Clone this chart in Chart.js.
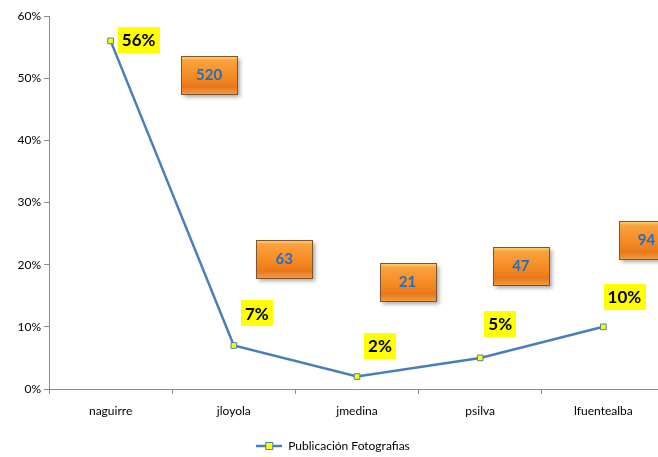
<!DOCTYPE html>
<html>
<head>
<meta charset="utf-8">
<script src="https://cdn.jsdelivr.net/npm/chart.js@4.4.1/dist/chart.umd.min.js"></script>
<style>
  html, body { margin: 0; padding: 0; background: #fff; overflow: hidden; }
  #wrap { width: 670px; height: 457px; }
</style>
</head>
<body>
<div id="wrap"><canvas id="chart" width="670" height="457"></canvas></div>
<script>
// datos del gráfico
const usuarios = ['naguirre', 'jloyola', 'jmedina', 'psilva', 'lfuentealba'];
const porcentajes = [56, 7, 2, 5, 10];
const fotografias = [520, 63, 21, 47, 94];
const serieNombre = 'Publicación Fotografias';

// posición de las cajas naranjas (indice de categoria, valor en %) - solo diseño
const cajaPosX = [0.80, 1.41, 2.41, 3.33, 4.35];
const cajaPosY = [50.5, 20.9, 17.2, 19.8, 24.0];
// desplazamiento de las etiquetas amarillas respecto al punto (px)
const etqDX = [28, 23, 23, 20, 21];
const etqDY = [-1, -32, -31, -34, -30];

const FONT = 'Lato, "Liberation Sans", sans-serif';
const AZUL = '#4A7EBB';
const GRIS = '#8C8C8C';

// icono de leyenda: linea con cuadro amarillo
const icono = document.createElement('canvas');
icono.width = 26; icono.height = 10;
(function () {
    const c = icono.getContext('2d');
    c.strokeStyle = AZUL; c.lineWidth = 2.5;
    c.beginPath(); c.moveTo(0, 5); c.lineTo(26, 5); c.stroke();
    c.fillStyle = '#FFFF00'; c.fillRect(9.5, 1.5, 7, 7);
    c.strokeStyle = AZUL; c.lineWidth = 1; c.strokeRect(9.5, 1.5, 7, 7);
})();

const etiquetas = {
    id: 'etiquetas',
    afterDraw(chart) {
        const ctx = chart.ctx;
        const sx = chart.scales.x, sy = chart.scales.y;
        const meta = chart.getDatasetMeta(0);

        // cajas naranjas con el total de fotografias
        fotografias.forEach((n, i) => {
            const cx = sx.getPixelForValue(cajaPosX[i]);
            const cy = sy.getPixelForValue(cajaPosY[i]);
            const w = 56, h = 38;
            const x0 = Math.round(cx - w / 2) + 0.5, y0 = Math.round(cy - h / 2) + 0.5;
            ctx.save();
            ctx.shadowColor = 'rgba(0,0,0,0.35)';
            ctx.shadowBlur = 4;
            ctx.shadowOffsetX = 2;
            ctx.shadowOffsetY = 2;
            const g = ctx.createLinearGradient(0, y0, 0, y0 + h);
            g.addColorStop(0, '#FCD27A');
            g.addColorStop(0.1, '#F9A23E');
            g.addColorStop(0.55, '#F68A22');
            g.addColorStop(0.8, '#E8781A');
            g.addColorStop(1, '#F39A45');
            ctx.fillStyle = g;
            ctx.fillRect(x0, y0, w, h);
            ctx.restore();
            ctx.save();
            ctx.strokeStyle = '#7E5530';
            ctx.lineWidth = 1;
            ctx.strokeRect(x0, y0, w, h);
            ctx.fillStyle = '#1F6EC1';
            ctx.font = 'bold 15px ' + FONT;
            ctx.textAlign = 'center';
            ctx.textBaseline = 'middle';
            ctx.fillText(String(n), cx, cy);
            ctx.restore();
        });

        // etiquetas amarillas con el porcentaje
        meta.data.forEach((pt, i) => {
            const txt = porcentajes[i] + '%';
            ctx.save();
            ctx.font = 'bold 17px ' + FONT;
            const tw = ctx.measureText(txt).width;
            const w = tw + 8, h = 26;
            const cx = pt.x + etqDX[i], cy = pt.y + etqDY[i];
            ctx.fillStyle = '#FFFF00';
            ctx.fillRect(Math.round(cx - w / 2), Math.round(cy - h / 2), Math.round(w), h);
            ctx.fillStyle = '#000';
            ctx.textAlign = 'center';
            ctx.textBaseline = 'middle';
            ctx.fillText(txt, cx, cy + 1);
            ctx.restore();
        });
    }
};

new Chart(document.getElementById('chart'), {
    type: 'line',
    data: {
        labels: usuarios,
        datasets: [{
            label: serieNombre,
            data: porcentajes,
            borderColor: AZUL,
            borderWidth: 2.5,
            pointStyle: 'rect',
            pointRadius: 4,
            pointBackgroundColor: '#FFFF00',
            pointBorderColor: AZUL,
            pointBorderWidth: 1,
            tension: 0
        }]
    },
    options: {
        responsive: false,
        animation: false,
        devicePixelRatio: 1,
        layout: { padding: { top: 16, left: 0, right: 4, bottom: -5 } },
        scales: {
            x: {
                offset: true,
                grid: { display: true, drawOnChartArea: false, drawTicks: true, tickLength: 5, color: GRIS, offset: true },
                border: { color: GRIS, width: 1 },
                ticks: { color: '#000', font: { family: FONT, size: 12 }, padding: 10 },
                afterFit: s => { s.height = 48; }
            },
            y: {
                min: 0,
                max: 60,
                grid: { display: true, drawOnChartArea: false, drawTicks: true, tickLength: 5, color: GRIS },
                border: { color: GRIS, width: 1 },
                ticks: {
                    stepSize: 10,
                    color: '#000',
                    font: { family: FONT, size: 12 },
                    padding: 3,
                    callback: v => v + '%'
                },
                afterFit: s => { s.width = 49; }
            }
        },
        plugins: {
            legend: {
                position: 'bottom',
                labels: {
                    usePointStyle: true,
                    pointStyleWidth: 26,
                    color: '#000',
                    font: { family: FONT, size: 12 },
                    padding: 3,
                    generateLabels: chart => [{
                        text: serieNombre,
                        pointStyle: icono,
                        fillStyle: '#FFFF00',
                        strokeStyle: AZUL,
                        lineWidth: 0,
                        datasetIndex: 0,
                        hidden: false
                    }]
                }
            },
            tooltip: { enabled: false }
        }
    },
    plugins: [etiquetas]
});
</script>
</body>
</html>
